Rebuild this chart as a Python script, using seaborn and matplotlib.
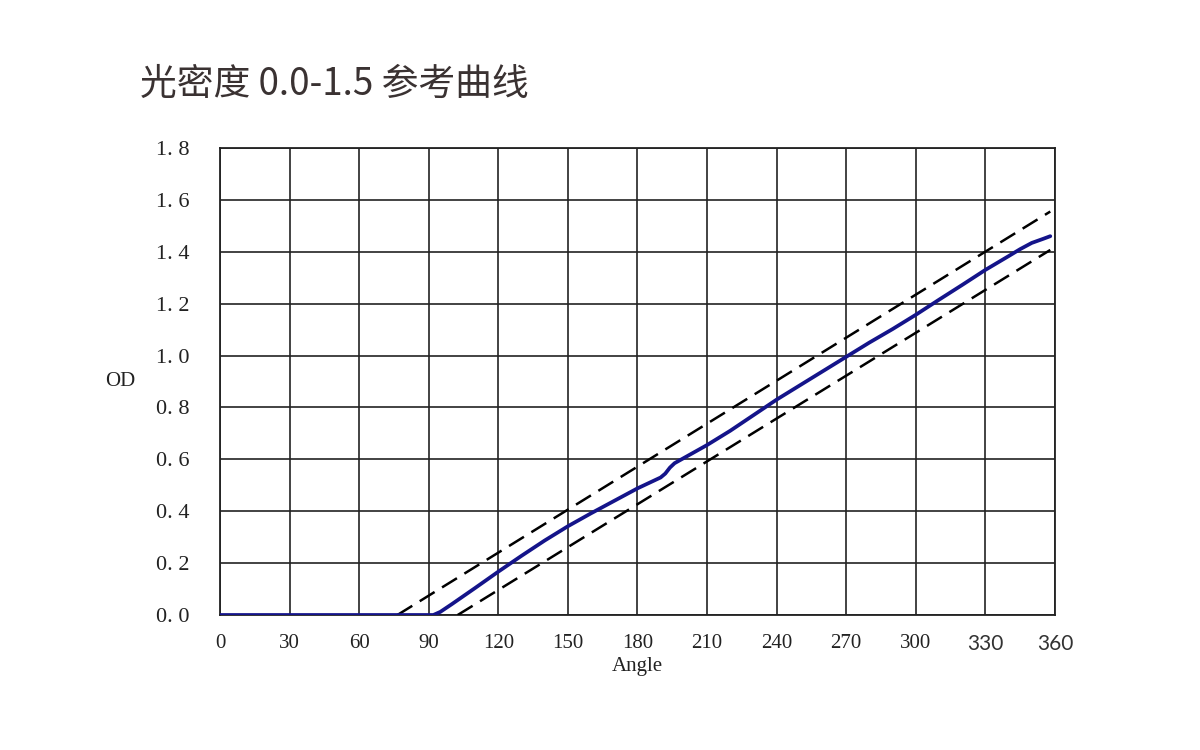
import matplotlib
matplotlib.use("Agg")
import matplotlib.pyplot as plt
import numpy as np
import pandas as pd
import seaborn as sns

# reference curve
angle = [0, 30, 60, 90, 92, 95, 100, 110, 120, 130, 140, 150, 160, 170, 180,
         190, 192, 194, 196, 200, 210, 220, 230, 240, 250, 260, 270, 280,
         290, 300, 310, 320, 330, 340, 345, 350, 355, 358]
od = [0, 0, 0, 0, 0.0, 0.012, 0.042, 0.104, 0.167, 0.228, 0.287, 0.342, 0.392,
      0.44, 0.488, 0.53, 0.545, 0.568, 0.585, 0.605, 0.655, 0.71, 0.77, 0.83,
      0.885, 0.94, 0.995, 1.05, 1.102, 1.157, 1.215, 1.272, 1.33, 1.383, 1.41,
      1.434, 1.45, 1.46]

# tolerance band (dashed)
upper_angle = [76.5, 358]
upper_od = [0.0, 1.555]
lower_angle = [102.5, 358]
lower_od = [0.0, 1.407]

xticks = [0, 30, 60, 90, 120, 150, 180, 210, 240, 270, 300, 330, 360]
yticks = [0.0, 0.2, 0.4, 0.6, 0.8, 1.0, 1.2, 1.4, 1.6, 1.8]

sns.set_style("white")
plt.rcParams['font.family'] = ['Liberation Serif', 'DejaVu Serif']

fig = plt.figure(figsize=(12, 7.5), dpi=100)
ax = fig.add_axes([0.1833, 0.18, 0.6958, 0.6227])

df_main = pd.DataFrame({"Angle": angle, "OD": od})
df_up = pd.DataFrame({"Angle": upper_angle, "OD": upper_od})
df_lo = pd.DataFrame({"Angle": lower_angle, "OD": lower_od})

for d in (df_up, df_lo):
    sns.lineplot(data=d, x="Angle", y="OD", ax=ax, color="black", lw=1.8,
                 dashes=False, linestyle=(0, (7, 3.5)), zorder=3)
sns.lineplot(data=df_main, x="Angle", y="OD", ax=ax, color="#14148a", lw=2.7,
             zorder=4)

ax.set_xlim(0, 360)
ax.set_ylim(0, 1.8)
ax.set_xticks(xticks)
ax.set_yticks(yticks)
ax.set_yticklabels([f"{v:.1f}".replace(".", ". ") for v in yticks])
ax.grid(True, color="#222222", lw=1.2)
ax.set_axisbelow(True)
for s in ax.spines.values():
    s.set_color("#222222")
    s.set_linewidth(1.3)
ax.tick_params(length=0, labelsize=15, colors="#222222")
ax.tick_params(axis="x", pad=14)
ax.tick_params(axis="y", pad=22, labelsize=16)
for lab in ax.get_xticklabels()[-2:]:
    lab.set_family(['Lato', 'DejaVu Sans'])
    lab.set_color("#333333")

ax.set_xlabel("Angle", fontsize=15, color="#222222", labelpad=2)
ax.set_ylabel("OD", fontsize=15, color="#222222", rotation=0,
              va="center", ha="center")
ax.yaxis.set_label_coords(-0.12, 0.5)

fig.text(0.117, 0.888, "光密度 0.0-1.5 参考曲线", fontsize=26.5,
         family=['Noto Sans CJK SC', 'DejaVu Sans'], color="#3a3232",
         va="center", ha="left", fontweight="light")

fig.savefig("out.png", dpi=100)
